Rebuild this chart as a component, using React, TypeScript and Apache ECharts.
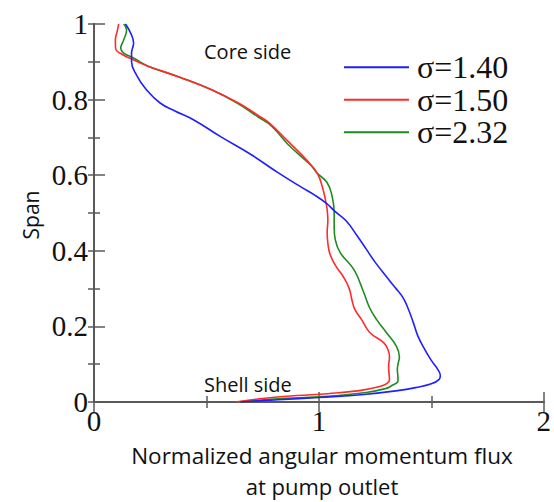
import React, { useEffect, useRef } from "react";
import * as echarts from "echarts";

// Normalized angular momentum flux (x) against span (y), listed from shell side (0) to core side (1)
const sigma140: [number, number][] = [
  [0.65, 0.0], [0.82, 0.006], [1.0, 0.012], [1.2, 0.02], [1.35, 0.03], [1.43, 0.038],
  [1.5, 0.048], [1.535, 0.06], [1.54, 0.07], [1.53, 0.085], [1.5, 0.11], [1.47, 0.14],
  [1.44, 0.175], [1.42, 0.21], [1.395, 0.25], [1.372, 0.278], [1.34, 0.302], [1.3, 0.332],
  [1.25, 0.37], [1.21, 0.405], [1.17, 0.44], [1.12, 0.48], [1.07, 0.505], [1.035, 0.525],
  [0.98, 0.548], [0.92, 0.569], [0.82, 0.606], [0.7, 0.654], [0.563, 0.702], [0.444, 0.746],
  [0.36, 0.77], [0.294, 0.791], [0.233, 0.826], [0.189, 0.865], [0.167, 0.9], [0.167, 0.923],
  [0.176, 0.95], [0.163, 0.976], [0.14, 1.0],
];

const sigma150: [number, number][] = [
  [0.63, 0.0], [0.76, 0.01], [0.9, 0.017], [1.04, 0.022], [1.18, 0.03], [1.27, 0.041],
  [1.3, 0.048], [1.314, 0.058], [1.312, 0.075], [1.31, 0.094], [1.314, 0.12], [1.308, 0.137],
  [1.288, 0.157], [1.226, 0.184], [1.19, 0.218], [1.16, 0.245], [1.147, 0.27], [1.135, 0.3],
  [1.11, 0.33], [1.075, 0.36], [1.05, 0.39], [1.04, 0.42], [1.037, 0.45], [1.04, 0.48],
  [1.037, 0.508], [1.029, 0.535], [1.015, 0.57], [0.993, 0.605], [0.949, 0.638], [0.862, 0.69],
  [0.78, 0.738], [0.73, 0.758], [0.642, 0.791], [0.523, 0.826], [0.378, 0.86], [0.3, 0.876],
  [0.246, 0.887], [0.176, 0.905], [0.13, 0.918], [0.096, 0.936], [0.095, 0.958], [0.103, 0.98],
  [0.11, 1.0],
];

const sigma232: [number, number][] = [
  [0.64, 0.0], [0.8, 0.008], [1.04, 0.015], [1.21, 0.025], [1.3, 0.036], [1.323, 0.043],
  [1.352, 0.056], [1.351, 0.07], [1.349, 0.086], [1.352, 0.1], [1.358, 0.12], [1.345, 0.147],
  [1.3, 0.184], [1.257, 0.218], [1.225, 0.25], [1.2, 0.289], [1.156, 0.35], [1.095, 0.395],
  [1.073, 0.429], [1.068, 0.46], [1.068, 0.5], [1.059, 0.544], [1.037, 0.58], [0.993, 0.605],
  [0.963, 0.627], [0.862, 0.682], [0.79, 0.73], [0.73, 0.754], [0.642, 0.789], [0.523, 0.826],
  [0.378, 0.86], [0.246, 0.887], [0.176, 0.91], [0.132, 0.923], [0.119, 0.936], [0.132, 0.958],
  [0.145, 0.984], [0.132, 1.0],
];

const seriesNames = ["σ=1.40", "σ=1.50", "σ=2.32"];
const seriesColors = ["#1f1fff", "#ff2a2a", "#1e8c1e"];
const xTitleLines = ["Normalized angular momentum flux", "at pump outlet"];
const yTitle = "Span";
const regionLabels = ["Core side", "Shell side"];

const AXIS = "#5a5a5a";
const SERIF = "'Liberation Serif', 'Times New Roman', serif";
const SANS = "'Open Sans', Lato, sans-serif";

export default function App() {
  const ref = useRef<HTMLDivElement>(null);

  useEffect(() => {
    if (!ref.current) return;
    const chart = echarts.init(ref.current, undefined, { renderer: "svg" });
    const data = [sigma140, sigma150, sigma232];

    const baseAxisLine = { show: true, lineStyle: { color: AXIS, width: 2 } };
    const tickStyle = { color: AXIS, width: 1.5 };

    chart.setOption({
      animation: false,
      backgroundColor: "#ffffff",
      grid: { left: 94, right: 5, top: 24, bottom: 100 },
      legend: {
        orient: "vertical",
        left: 344,
        top: 51,
        padding: 0,
        itemGap: 0,
        itemWidth: 65,
        itemHeight: 2,
        icon: "rect",
        data: seriesNames,
        textStyle: {
          fontFamily: SERIF,
          fontSize: 32,
          lineHeight: 32.5,
          color: "#111",
          padding: [0, 0, 0, 3],
        },
      },
      xAxis: [
        {
          type: "value",
          min: 0,
          max: 2,
          interval: 1,
          position: "bottom",
          axisLine: baseAxisLine,
          axisTick: { show: true, inside: true, length: 10, lineStyle: tickStyle },
          minorTick: { show: true, splitNumber: 2, length: 6, lineStyle: tickStyle },
          splitLine: { show: false },
          axisLabel: { fontFamily: SERIF, fontSize: 29, color: "#111", margin: 4 },
        },
        {
          type: "value",
          min: 0,
          max: 2,
          interval: 1,
          position: "top",
          axisLine: baseAxisLine,
          axisTick: { show: true, inside: true, length: 10, lineStyle: tickStyle },
          minorTick: { show: true, splitNumber: 2, length: 6, lineStyle: tickStyle },
          splitLine: { show: false },
          axisLabel: { show: false },
        },
      ],
      yAxis: [
        {
          type: "value",
          min: 0,
          max: 1,
          interval: 0.2,
          position: "left",
          axisLine: baseAxisLine,
          axisTick: { show: true, inside: true, length: 11, lineStyle: tickStyle },
          minorTick: { show: true, splitNumber: 2, length: 6, lineStyle: tickStyle },
          splitLine: { show: false },
          axisLabel: { fontFamily: SERIF, fontSize: 29, color: "#111", margin: 6 },
        },
        {
          type: "value",
          min: 0,
          max: 1,
          interval: 0.1,
          position: "right",
          axisLine: baseAxisLine,
          axisTick: { show: true, inside: true, length: 6, lineStyle: tickStyle },
          splitLine: { show: false },
          axisLabel: { show: false },
        },
      ],
      series: seriesNames.map((name, i) => ({
        name,
        type: "line",
        xAxisIndex: 0,
        yAxisIndex: 0,
        data: data[i],
        smooth: 0.45,
        symbol: "none",
        lineStyle: { color: seriesColors[i], width: 1.6 },
        itemStyle: { color: seriesColors[i] },
        z: 3 - i,
      })),
      graphic: [
        {
          type: "text",
          x: 204,
          y: 51,
          style: { text: regionLabels[0], fontFamily: SANS, fontSize: 20, fill: "#111", verticalAlign: "middle" },
        },
        {
          type: "text",
          x: 204,
          y: 384,
          style: { text: regionLabels[1], fontFamily: SANS, fontSize: 20, fill: "#111", verticalAlign: "middle" },
        },
        {
          type: "text",
          x: 31,
          y: 215,
          rotation: Math.PI / 2,
          style: { text: yTitle, fontFamily: SANS, fontSize: 21, fill: "#111", align: "center", verticalAlign: "middle" },
        },
        {
          type: "text",
          x: 322,
          y: 455,
          style: { text: xTitleLines[0], fontFamily: SANS, fontSize: 22.5, fill: "#111", align: "center", verticalAlign: "middle" },
        },
        {
          type: "text",
          x: 322,
          y: 486,
          style: { text: xTitleLines[1], fontFamily: SANS, fontSize: 22, fill: "#111", align: "center", verticalAlign: "middle" },
        },
      ],
    });

    return () => chart.dispose();
  }, []);

  return <div ref={ref} style={{ width: 554, height: 502, position: "absolute", left: 0, top: 0 }} />;
}
